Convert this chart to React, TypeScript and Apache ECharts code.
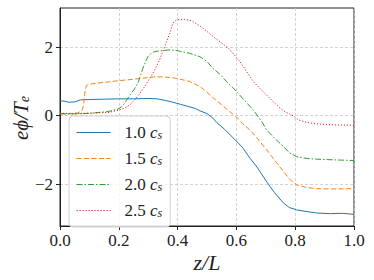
import React, { useEffect, useRef } from "react";
import * as echarts from "echarts";

const seriesNames = ["1.0", "1.5", "2.0", "2.5"];
const seriesColors = ["#1f77b4", "#ff7f0e", "#2ca02c", "#d62728"];

const blue: number[][] = [
  [0, 0.42], [0.01, 0.43], [0.03, 0.39], [0.05, 0.4], [0.07, 0.46], [0.1, 0.47], [0.15, 0.48],
  [0.2, 0.49], [0.25, 0.49], [0.3, 0.5], [0.33, 0.49], [0.36, 0.44], [0.38, 0.4], [0.41, 0.33],
  [0.435, 0.27], [0.46, 0.21], [0.476, 0.14], [0.5, 0.06], [0.52, -0.07], [0.533, -0.2],
  [0.56, -0.4], [0.589, -0.65], [0.62, -0.92], [0.646, -1.24], [0.67, -1.5], [0.703, -1.93],
  [0.73, -2.25], [0.76, -2.55], [0.78, -2.68], [0.805, -2.75], [0.84, -2.8], [0.873, -2.84],
  [0.92, -2.86], [0.96, -2.85], [1.0, -2.88],
];
const orange: number[][] = [
  [0, 0.06], [0.03, 0.05], [0.06, 0.08], [0.075, 0.15], [0.08, 0.3], [0.085, 0.7], [0.09, 0.88],
  [0.1, 0.92], [0.15, 0.97], [0.2, 1.02], [0.25, 1.06], [0.28, 1.09], [0.32, 1.13], [0.35, 1.13],
  [0.38, 1.11], [0.41, 1.06], [0.44, 1.0], [0.476, 0.85], [0.5, 0.68], [0.522, 0.51], [0.544, 0.36],
  [0.567, 0.19], [0.6, -0.04], [0.62, -0.22], [0.646, -0.42], [0.67, -0.65], [0.703, -1.0],
  [0.73, -1.3], [0.76, -1.63], [0.78, -1.85], [0.805, -2.02], [0.84, -2.1], [0.873, -2.13],
  [0.93, -2.14], [1.0, -2.13],
];
const green: number[][] = [
  [0, 0.05], [0.05, 0.05], [0.105, 0.07], [0.163, 0.12], [0.197, 0.19], [0.21, 0.26], [0.22, 0.36],
  [0.23, 0.5], [0.242, 0.65], [0.255, 0.8], [0.265, 0.95], [0.275, 1.2], [0.282, 1.38], [0.29, 1.55],
  [0.299, 1.72], [0.31, 1.82], [0.322, 1.87], [0.35, 1.9], [0.378, 1.92], [0.408, 1.88], [0.44, 1.82],
  [0.476, 1.72], [0.5, 1.58], [0.52, 1.38], [0.545, 1.2], [0.567, 0.99], [0.59, 0.8], [0.606, 0.65],
  [0.63, 0.42], [0.657, 0.17], [0.686, -0.17], [0.703, -0.42], [0.73, -0.66], [0.76, -0.9],
  [0.78, -1.08], [0.805, -1.2], [0.84, -1.25], [0.873, -1.27], [0.93, -1.29], [1.0, -1.31],
];
const red: number[][] = [
  [0, 0.07], [0.05, 0.06], [0.1, 0.07], [0.163, 0.09], [0.2, 0.16], [0.22, 0.22], [0.24, 0.33],
  [0.254, 0.46], [0.27, 0.63], [0.288, 0.85], [0.305, 1.08], [0.322, 1.33], [0.34, 1.65],
  [0.356, 2.01], [0.373, 2.4], [0.384, 2.7], [0.396, 2.79], [0.424, 2.81], [0.45, 2.76],
  [0.487, 2.55], [0.52, 2.31], [0.55, 2.12], [0.578, 1.92], [0.61, 1.6], [0.635, 1.28],
  [0.66, 0.97], [0.691, 0.7], [0.72, 0.45], [0.748, 0.22], [0.77, 0.09], [0.793, 0.0],
  [0.81, -0.12], [0.84, -0.2], [0.873, -0.24], [0.93, -0.27], [1.0, -0.28],
];
const allSeries = [blue, orange, green, red];
const dashStyles: any[] = ["solid", [5, 2.5], [6, 2, 1.5, 2], [1.2, 1.8]];

const yTicks = [-2, 0, 2];
const yMin = -3.22;
const yMax = 3.14;

const FONT = "Liberation Serif";

export default function App() {
  const ref = useRef<HTMLDivElement>(null);
  useEffect(() => {
    if (!ref.current) return;
    const chart = echarts.init(ref.current, null, { renderer: "svg" });
    const option: any = {
      animation: false,
      backgroundColor: "#ffffff",
      grid: {
        left: 60, top: 8, right: 20, bottom: 54,
        show: true, borderColor: "#222", borderWidth: 1, backgroundColor: "transparent",
      },
      xAxis: {
        type: "value", min: 0, max: 1, interval: 0.2,
        axisLine: { show: true, onZero: false, lineStyle: { color: "#222", width: 1 } },
        axisTick: { show: true, length: 4, lineStyle: { color: "#222" } },
        axisLabel: {
          color: "#222", fontFamily: FONT, fontSize: 17, margin: 6,
          formatter: (v: number) => v.toFixed(1),
        },
        splitLine: { show: true, lineStyle: { color: "#c8c8c8", type: [3, 2], width: 0.8 } },
      },
      yAxis: {
        type: "value", min: yMin, max: yMax,
        axisLine: { show: true, onZero: false, lineStyle: { color: "#222", width: 1 } },
        axisTick: { show: true, length: 4, customValues: yTicks, lineStyle: { color: "#222" } },
        axisLabel: {
          color: "#222", fontFamily: FONT, fontSize: 17, margin: 7, customValues: yTicks,
          formatter: (v: number) => String(Math.round(v)).replace("-", "\u2212"),
        },
        splitLine: { show: true, lineStyle: { color: "#c8c8c8", type: [3, 2], width: 0.8 } },
      },
      legend: {
        orient: "vertical",
        left: 69, top: 116,
        itemWidth: 34, itemHeight: 14, itemGap: 9,
        padding: [8, 8, 8, 7],
        backgroundColor: "rgba(255,255,255,0.8)",
        borderColor: "#d0d0d0", borderWidth: 1, borderRadius: 4,
        itemStyle: { opacity: 0 },
        lineStyle: { width: 1 },
        data: seriesNames,
        formatter: (name: string) => `{n|${name} }{c|c}{s|s}`,
        textStyle: {
          color: "#222", fontFamily: FONT, fontSize: 17, padding: [0, 0, 0, 9],
          rich: {
            n: { fontFamily: FONT, fontSize: 17, color: "#222" },
            c: { fontFamily: FONT, fontSize: 17, fontStyle: "italic", color: "#222" },
            s: { fontFamily: FONT, fontSize: 12, fontStyle: "italic", color: "#222", verticalAlign: "bottom", lineHeight: 12 },
          },
        },
      },
      series: allSeries.map((d, i) => ({
        name: seriesNames[i],
        type: "line",
        data: d,
        symbol: "none",
        showSymbol: false,
        lineStyle: { color: seriesColors[i], width: 1, type: dashStyles[i] },
        itemStyle: { color: seriesColors[i] },
        z: 2 + i,
      })),
      graphic: [
        {
          type: "text", x: 207, y: 262,
          style: {
            text: "z/L", fill: "#222", font: `italic 22px ${FONT}`,
            align: "center", verticalAlign: "middle",
          },
        },
        {
          type: "text", x: 21, y: 118, rotation: Math.PI / 2,
          style: {
            text: "{a|e\u03D5/T}{b|e}", align: "center", verticalAlign: "middle",
            rich: {
              a: { fontFamily: FONT, fontSize: 21, fontStyle: "italic", fill: "#222" },
              b: { fontFamily: FONT, fontSize: 14, fontStyle: "italic", fill: "#222", verticalAlign: "bottom", lineHeight: 13 },
            },
          },
        },
      ],
    };
    chart.setOption(option);
    return () => chart.dispose();
  }, []);
  return <div ref={ref} style={{ position: "fixed", left: 0, top: 0, width: 374, height: 280 }} />;
}
